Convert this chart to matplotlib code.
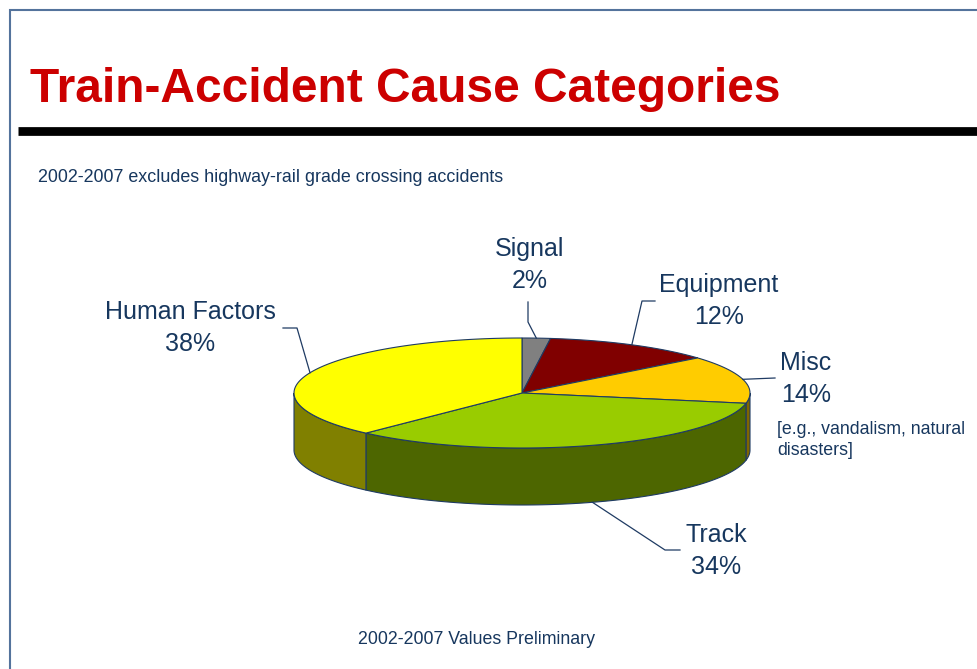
import numpy as np
import matplotlib.pyplot as plt
from matplotlib.patches import Polygon
from matplotlib.colors import to_rgb

# slice data, clockwise from 12 o'clock
categories = ["Signal", "Equipment", "Misc", "Track", "Human Factors"]
shares = [2, 12, 14, 34, 38]
top_colors = ["#808080", "#800000", "#FFCC00", "#99CC00", "#FFFF00"]

title = "Train-Accident Cause Categories"
subtitle = "2002-2007 excludes highway-rail grade crossing accidents"
footer = "2002-2007 Values Preliminary"
misc_note = "[e.g., vandalism, natural\ndisasters]"

# layout (pixel coords, y down)
CX, CY, RX, RY, DEPTH = 522, 393, 228, 55, 57
label_pos = [(530, 265), (719, 301), (806, 379), (716, 551), (190, 328)]
leader_elbow = [(528, 322), (642, 301), (775, 378), (665, 550), (297, 328)]
leader_end = [(528, 302), (655, 301), (775, 378), (680, 550), (283, 328)]

NAVY = "#17375E"
EDGE = "#1F3B63"

fig = plt.figure(figsize=(9.77, 6.69), dpi=100)
ax = fig.add_axes([0, 0, 1, 1])
ax.set_xlim(0, 977)
ax.set_ylim(669, 0)
ax.axis("off")
plt.rcParams["font.family"] = ["Liberation Sans", "DejaVu Sans"]


def arc(t0, t1, dy=0.0, n=120):
    t = np.radians(np.linspace(t0, t1, n))
    return np.column_stack([CX + RX * np.cos(t), CY - RY * np.sin(t) + dy])


total = float(sum(shares))
cum = np.concatenate([[0], np.cumsum(shares)]) / total
starts = 90 - 360 * cum[:-1]
ends = 90 - 360 * cum[1:]

# sides (front half only)
for s, e, col in zip(starts, ends, top_colors):
    side = tuple(c * 0.5 for c in to_rgb(col))
    for k in (-360, 0, 360):
        lo, hi = max(e, -180 + k), min(s, k)
        if hi > lo:
            pts = np.vstack([arc(lo, hi), arc(hi, lo, DEPTH)])
            ax.add_patch(Polygon(pts, closed=True, facecolor=side,
                                 edgecolor=EDGE, lw=0.8, zorder=2))

# top faces
for s, e, col in zip(starts, ends, top_colors):
    pts = np.vstack([[CX, CY], arc(s, e)])
    ax.add_patch(Polygon(pts, closed=True, facecolor=col,
                         edgecolor=EDGE, lw=0.8, zorder=3))

# labels and leader lines
for i, (name, v) in enumerate(zip(categories, shares)):
    mid = (starts[i] + ends[i]) / 2
    sx = CX + RX * np.cos(np.radians(mid))
    sy = CY - RY * np.sin(np.radians(mid))
    if np.sin(np.radians(mid)) < 0:
        sy += DEPTH
    ex, ey = leader_elbow[i]
    fx, fy = leader_end[i]
    ax.plot([sx, ex, fx], [sy, ey, fy], color=EDGE, lw=0.9, zorder=4)
    lx, ly = label_pos[i]
    ax.text(lx, ly, f"{name}\n{v}%", ha="center", va="center",
            multialignment="center", fontsize=18, color=NAVY,
            linespacing=1.4, zorder=5)

ax.text(777, 440, misc_note, ha="left", va="center", fontsize=12.8,
        color=NAVY, linespacing=1.3)

# page furniture
ax.plot([9.5, 9.5, 977], [669, 9.5, 9.5], color="#54739C", lw=1.5,
        solid_joinstyle="miter")
ax.plot([18, 977], [131, 131], color="black", lw=6.3, solid_capstyle="butt")
ax.text(30, 102, title, ha="left", va="baseline", fontsize=34.5,
        fontweight="bold", color="#CC0000")
ax.text(38, 177, subtitle, ha="left", va="center", fontsize=12.9, color=NAVY)
ax.text(477, 639, footer, ha="center", va="center", fontsize=12.8, color=NAVY)

fig.savefig("out.png", dpi=100)
